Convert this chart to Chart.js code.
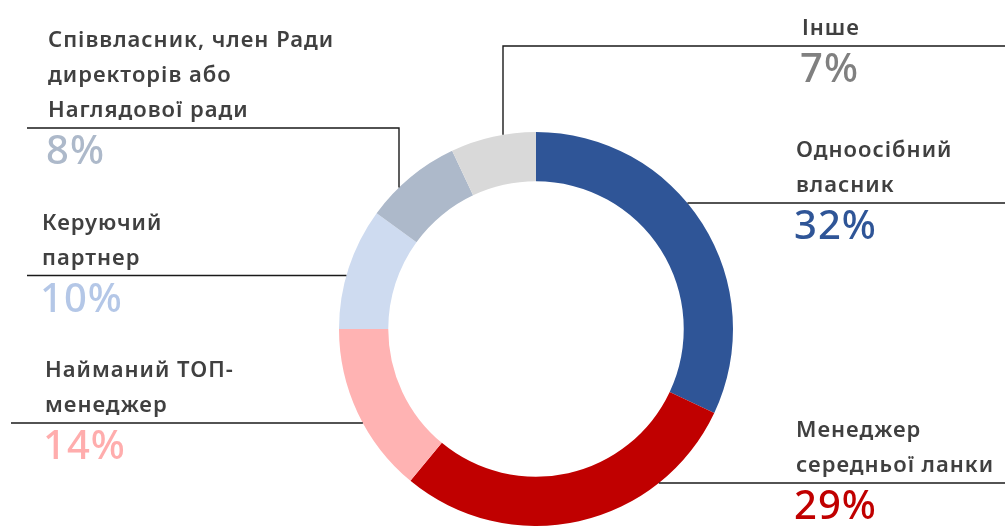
<!DOCTYPE html>
<html>
<head>
<meta charset="utf-8">
<script src="https://cdn.jsdelivr.net/npm/chart.js@4"></script>
<style>
  html, body { margin: 0; padding: 0; background: #fff; }
  #chart { display: block; }
</style>
</head>
<body>
<canvas id="chart" width="1005" height="527"></canvas>
<script>
// Values
const categories = [
  ['Одноосібний', 'власник'],
  ['Менеджер', 'середньої ланки'],
  ['Найманий ТОП-', 'менеджер'],
  ['Керуючий', 'партнер'],
  ['Співвласник, член Ради', 'директорів або', 'Наглядової ради'],
  ['Інше']
];
const shares = [32, 29, 14, 10, 8, 7];
const sliceColors = ['#2F5597', '#C00000', '#FFB3B3', '#CEDBF0', '#ADB9CA', '#D9D9D9'];
const pctColors = ['#2F5597', '#C00000', '#FFADAD', '#B4C7E7', '#ADB9CA', '#808080'];

// Where each label sits and how its leader line runs
const labelLayout = [
  { kind: 'h', lineY: 203, lineTo: 1005, textX: 796 },
  { kind: 'h', lineY: 483, lineTo: 1005, textX: 796 },
  { kind: 'h', lineY: 423, lineTo: 11, textX: 45 },
  { kind: 'h', lineY: 275.5, lineTo: 27, textX: 42 },
  { kind: 'elbow', lineY: 128, lineX: 399, lineTo: 27, textX: 48 },
  { kind: 'elbow', lineY: 46, lineX: 503, lineTo: 1005, textX: 802 }
];

const leaderLabels = {
  id: 'leaderLabels',
  afterDraw(chart) {
    const ctx = chart.ctx;
    const arc = chart.getDatasetMeta(0).data[0];
    const cx = arc.x, cy = arc.y, R = arc.outerRadius;
    ctx.save();
    ctx.strokeStyle = '#1a1a1a';
    ctx.lineWidth = 1.4;
    labelLayout.forEach((l, i) => {
      ctx.beginPath();
      if (l.kind === 'h') {
        const dy = l.lineY - cy;
        const dx = Math.sqrt(Math.max(0, R * R - dy * dy));
        const ax = l.lineTo > cx ? cx + dx : cx - dx;
        ctx.moveTo(ax, l.lineY);
        ctx.lineTo(l.lineTo, l.lineY);
      } else {
        const dx = l.lineX - cx;
        const ay = cy - Math.sqrt(Math.max(0, R * R - dx * dx));
        ctx.moveTo(l.lineX, ay);
        ctx.lineTo(l.lineX, l.lineY);
        ctx.lineTo(l.lineTo, l.lineY);
      }
      ctx.stroke();

      const lines = categories[i];
      ctx.textAlign = 'left';
      ctx.textBaseline = 'middle';
      ctx.fillStyle = '#404040';
      ctx.font = '600 22px "Noto Sans"';
      ctx.letterSpacing = '1px';
      const step = 35;
      lines.forEach((t, k) => {
        const y = l.lineY - 17 - (lines.length - 1 - k) * step;
        ctx.fillText(t, l.textX, y);
      });
      ctx.fillStyle = pctColors[i];
      ctx.font = '500 40px "Noto Sans"';
      ctx.letterSpacing = '1px';
      ctx.fillText(shares[i] + '%', l.textX - 2, l.lineY + 25);
    });
    ctx.restore();
  }
};

new Chart(document.getElementById('chart'), {
  type: 'doughnut',
  data: {
    labels: categories.map(c => c.join(' ')),
    datasets: [{
      data: shares,
      backgroundColor: sliceColors,
      borderWidth: 0
    }]
  },
  options: {
    responsive: false,
    animation: false,
    cutout: '75%',
    layout: { padding: { top: 132, bottom: 1, left: 339, right: 272 } },
    plugins: {
      legend: { display: false },
      tooltip: { enabled: false }
    }
  },
  plugins: [leaderLabels]
});
</script>
</body>
</html>
